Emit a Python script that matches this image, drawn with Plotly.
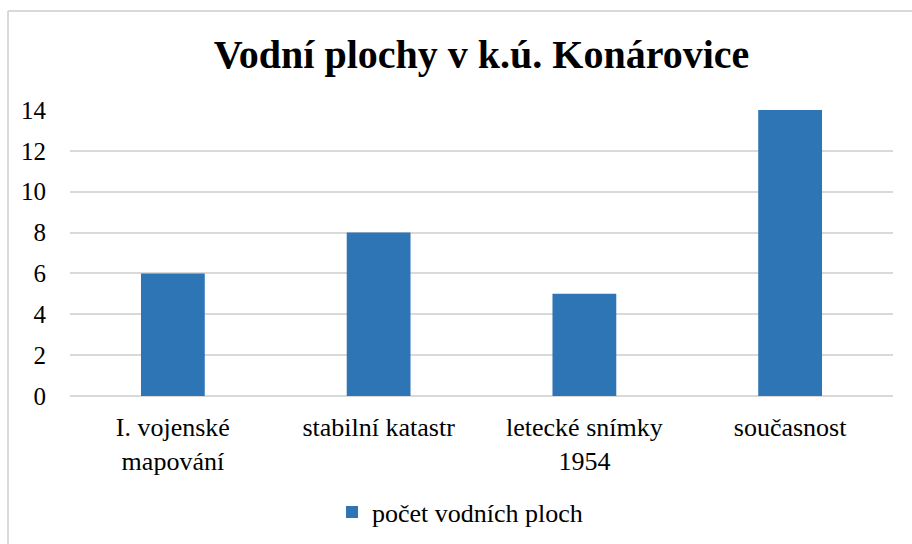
import plotly.graph_objects as go

# Počet vodních ploch v jednotlivých obdobích
categories = ["I. vojenské<br>mapování", "stabilní katastr", "letecké snímky<br>1954", "současnost"]
counts = [6, 8, 5, 14]
series_name = "počet vodních ploch"
y_ticks = [0, 2, 4, 6, 8, 10, 12, 14]

W, H = 912, 544
ML, MR, MT, MB = 70, 19, 110, 148
pw, ph = W - ML - MR, H - MT - MB

def px_x(x):
    return (x - ML) / pw

def px_y(y):
    return 1 - (y - MT) / ph

serif = "Liberation Serif, Times New Roman, serif"

fig = go.Figure()
fig.add_trace(go.Bar(
    x=categories,
    y=counts,
    name=series_name,
    marker=dict(color="#2E75B6", line=dict(width=0)),
    width=0.31,
    showlegend=True,
))

fig.update_layout(
    width=W, height=H,
    margin=dict(l=ML, r=MR, t=MT, b=MB, autoexpand=False),
    paper_bgcolor="white",
    plot_bgcolor="white",
    title=dict(
        text="<b>Vodní plochy v k.ú. Konárovice</b>",
        font=dict(family=serif, size=40, color="black"),
        x=0.5, xanchor="center", xref="paper",
        y=1 - 54 / H, yanchor="middle",
    ),
    xaxis=dict(
        tickfont=dict(family=serif, size=26, color="black"),
        showgrid=False,
        showline=False,
        ticks="outside", ticklen=8, tickcolor="rgba(0,0,0,0)",
    ),
    yaxis=dict(
        range=[0, 14],
        tickvals=y_ticks,
        tickfont=dict(family=serif, size=25, color="black"),
        showgrid=True, gridcolor="#D9D9D9", gridwidth=2,
        zeroline=True, zerolinecolor="#D9D9D9", zerolinewidth=2,
        showline=False,
        ticks="outside", ticklen=18, tickcolor="rgba(0,0,0,0)",
    ),
    legend=dict(
        orientation="h",
        x=(460 - ML) / pw, xanchor="center",
        y=px_y(512), yanchor="middle",
        font=dict(family=serif, size=26, color="black"),
        itemwidth=30,
    ),
    bargap=0.69,
    shapes=[
        dict(type="line", xref="paper", yref="paper",
             x0=px_x(8), x1=px_x(930), y0=px_y(11), y1=px_y(11),
             line=dict(color="#D9D9D9", width=2)),
        dict(type="line", xref="paper", yref="paper",
             x0=px_x(8), x1=px_x(8), y0=px_y(11), y1=px_y(560),
             line=dict(color="#D9D9D9", width=2)),
    ],
)

fig.write_html("out.html")
